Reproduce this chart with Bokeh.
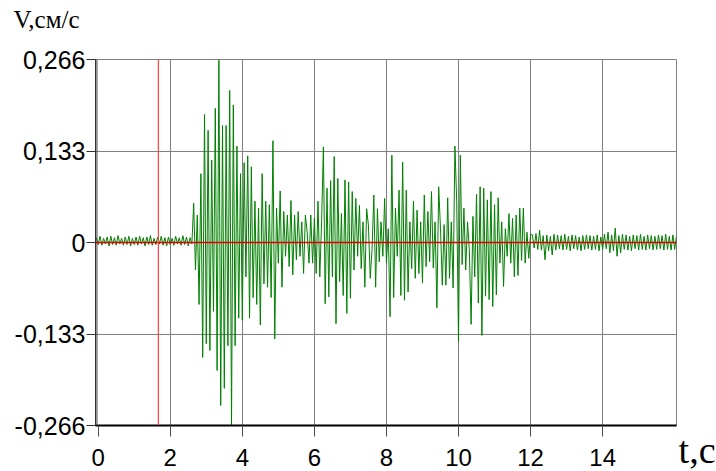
from bokeh.plotting import figure
from bokeh.models import Range1d, FixedTicker, CustomJSTickFormatter, Span, Title
from bokeh.embed import file_html
from bokeh.resources import INLINE
import numpy as np

# ---- data ----
t_start = -0.05      # s, time of first sample
dt = 0.05            # s, sampling step
velocity = [
    # quiet part, -0.05 .. 2.60 s
    0.007, -0.003, 0.009, -0.004, 0.006, -0.002, 0.008, -0.005, 0.009, -0.003,
    0.007, -0.004, 0.010, -0.002, 0.006, -0.004, 0.008, -0.003, 0.009, -0.005,
    0.006, -0.003, 0.008, -0.004, 0.009, -0.002, 0.007, -0.005, 0.008, -0.003,
    0.010, -0.004, 0.006, -0.003, 0.008, -0.002, 0.009, -0.004, 0.007, -0.005,
    0.008, -0.003, 0.006, -0.004, 0.009, -0.002, 0.007, -0.004, 0.010, -0.003,
    0.008, -0.005, 0.007, -0.002,
    # strong motion, 2.65 .. 12.00 s
    0.057, -0.040, 0.040, -0.090, 0.100, -0.167, 0.186, -0.147, 0.163, -0.157,
    0.120, -0.100, 0.195, -0.186, 0.265, -0.237, 0.170, -0.212, 0.170, -0.150,
    0.221, -0.266, 0.200, -0.150, 0.140, -0.110, 0.100, -0.113, 0.116, -0.050,
    0.126, -0.110, 0.110, -0.080, 0.060, -0.090, 0.050, -0.120, 0.100, -0.060,
    0.060, -0.065, 0.055, -0.080, 0.148, -0.140, 0.050, -0.030, 0.075, -0.065,
    0.045, -0.020, 0.040, -0.035, 0.061, -0.047, 0.040, -0.025, 0.045, -0.020,
    0.030, -0.045, 0.040, 0.015, -0.030, 0.040, -0.030, 0.035, -0.045, 0.060,
    -0.050, 0.030, 0.139, -0.089, 0.079, -0.079, 0.090, -0.050, 0.125, -0.118,
    0.093, -0.057, 0.042, -0.077, 0.091, -0.103, 0.088, -0.081, 0.074, -0.040,
    0.064, -0.020, 0.054, -0.038, 0.030, -0.065, 0.049, 0.025, -0.052, -0.010,
    0.069, -0.065, 0.049, -0.028, 0.030, -0.020, 0.064, -0.030, 0.020, -0.108,
    0.127, -0.080, 0.050, -0.020, 0.076, -0.077, 0.117, -0.084, 0.076, -0.072,
    0.030, -0.038, 0.060, -0.052, 0.047, -0.045, 0.030, -0.059, 0.069, -0.035,
    0.045, -0.028, 0.074, -0.037, 0.030, -0.095, 0.081, 0.020, -0.062, 0.026,
    -0.062, 0.065, -0.052, 0.030, -0.066, 0.140, 0.060, -0.144, 0.127, -0.032,
    0.050, -0.040, 0.030, -0.010, -0.119, 0.038, -0.050, 0.070, -0.088, 0.081,
    -0.135, 0.079, -0.078, 0.062, -0.083, 0.074, -0.093, 0.055, -0.076, 0.065,
    -0.030, 0.030, -0.064, 0.020, -0.020, 0.042, -0.030, 0.035, -0.050, 0.040,
    -0.048, 0.050, -0.026, 0.050, -0.030, 0.015, -0.023, 0.012,
    # coda, 12.05 .. 16.05 s
    0.011, -0.008, 0.013, -0.010, 0.018, -0.011, 0.010, -0.025, 0.011, -0.012,
    0.009, -0.018, 0.012, -0.011, 0.011, -0.009, 0.010, -0.011, 0.012, -0.010,
    0.009, -0.012, 0.011, -0.009, 0.010, -0.011, 0.008, -0.012, 0.010, -0.010,
    0.011, -0.009, 0.010, -0.011, 0.009, -0.010, 0.011, -0.012, 0.008, -0.010,
    0.012, -0.009, 0.015, -0.015, 0.011, -0.012, 0.021, -0.020, 0.010, -0.015,
    0.012, -0.010, 0.011, -0.011, 0.009, -0.012, 0.011, -0.009, 0.010, -0.011,
    0.012, -0.010, 0.009, -0.011, 0.011, -0.009, 0.010, -0.011, 0.009, -0.010,
    0.011, -0.009, 0.010, -0.011, 0.012, -0.010, 0.009, -0.011, 0.011, -0.010,
    0.010,
]
marker_time = 1.67   # red vertical marker, s

t_ticks = [0, 2, 4, 6, 8, 10, 12, 14]
v_ticks = [-0.266, -0.133, 0.0, 0.133, 0.266]
v_tick_labels = ["-0,266", "-0,133", "0", "0,133", "0,266"]
y_title = "V,см/с"
x_title = "t,с"

time = t_start + dt * np.arange(len(velocity))

# ---- figure ----
p = figure(width=716, height=478, output_backend="svg", toolbar_location=None,
           x_range=Range1d(-0.075, 16.05), y_range=Range1d(-0.266, 0.266),
           min_border_left=95, min_border_right=40, min_border_top=59, min_border_bottom=53)
p.background_fill_color = "white"
p.border_fill_color = "white"
p.outline_line_color = "#808080"
p.outline_line_width = 1

p.line(time, velocity, line_color="#008000", line_width=1)

# grids
p.xgrid.ticker = FixedTicker(ticks=t_ticks[1:])
p.ygrid.ticker = FixedTicker(ticks=[-0.133, 0.133])
for g in (p.xgrid, p.ygrid):
    g.grid_line_color = "#808080"
    g.grid_line_width = 1

# axes
xa = p.xaxis[0]
xa.ticker = FixedTicker(ticks=t_ticks)
xa.axis_line_color = "black"
xa.axis_line_width = 2
xa.major_tick_out = 11
xa.major_tick_in = 0
xa.major_tick_line_color = "#505050"
xa.minor_tick_line_color = None
xa.major_label_standoff = 12
xa.major_label_text_font = "Liberation Sans"
xa.major_label_text_font_size = "24px"
xa.major_label_text_color = "black"

ya = p.yaxis[0]
ya.ticker = FixedTicker(ticks=v_ticks)
ya.formatter = CustomJSTickFormatter(
    args=dict(tick_values=v_ticks, tick_labels=v_tick_labels),
    code="const i = tick_values.findIndex(v => Math.abs(v - tick) < 1e-9); return i >= 0 ? tick_labels[i] : '';")
ya.axis_line_color = "#303030"
ya.axis_line_width = 1
ya.major_tick_out = 9
ya.major_tick_in = 0
ya.major_tick_line_color = "#303030"
ya.minor_tick_line_color = None
ya.major_label_standoff = 1
ya.major_label_text_font = "Liberation Sans"
ya.major_label_text_font_size = "25px"
ya.major_label_text_color = "black"

# second (inner) left border line
p.add_layout(Span(location=-0.035, dimension="height", line_color="#404040", line_width=1))
# red zero line and red time marker
p.add_layout(Span(location=0.0, dimension="width", line_color="#e00000", line_width=1.5))
p.add_layout(Span(location=marker_time, dimension="height", line_color="#ff4040", line_width=1.2))

# y title above the frame, at the left (an empty spacer panel lifts it up)
p.add_layout(Title(text=" ", text_font_size="1px", standoff=21), "above")
p.add_layout(Title(text=y_title, align="left", vertical_align="bottom", offset=-82, standoff=6,
                   text_font="Liberation Serif", text_font_size="25px",
                   text_font_style="normal", text_color="black"), "above")
# x title at the lower right corner, pulled up next to the tick labels
p.add_layout(Title(text=x_title, align="right", vertical_align="top", offset=-39, standoff=-80,
                   text_font="Liberation Serif", text_font_size="38px",
                   text_font_style="normal", text_color="black"), "below")

open("out.html", "w").write(file_html(p, INLINE))
